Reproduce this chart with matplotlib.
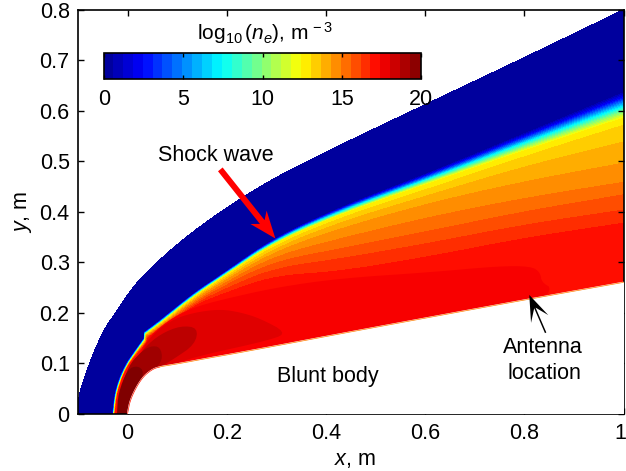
import numpy as np
import matplotlib
matplotlib.use('Agg')
import matplotlib.pyplot as plt
from matplotlib.colors import LinearSegmentedColormap, Normalize
from matplotlib.patches import Polygon
from matplotlib.transforms import ScaledTranslation

plt.rcParams['font.family'] = ['Liberation Sans', 'DejaVu Sans']
plt.rcParams['mathtext.fontset'] = 'custom'
plt.rcParams['mathtext.rm'] = 'Liberation Sans'
plt.rcParams['mathtext.it'] = 'Liberation Sans:italic'
plt.rcParams['axes.linewidth'] = 1.2

# stations along the flow: outer edge, shock front, body surface
outer_x = [-0.1, -0.098, -0.069, -0.045, -0.02, -0.005, 0.026, 0.1, 0.19, 0.294, 0.429, 0.611, 0.8, 1.0]
outer_y = [0.0, 0.04, 0.119, 0.17, 0.204, 0.228, 0.268, 0.336, 0.402, 0.466, 0.532, 0.617, 0.705, 0.8]
shock_x = [-0.03, -0.025, -0.007, 0.016, 0.033, 0.034, 0.067, 0.133, 0.194, 0.294, 0.429, 0.611, 0.8, 1.0]
shock_y = [0.0, 0.046, 0.092, 0.125, 0.148, 0.161, 0.185, 0.238, 0.278, 0.347, 0.409, 0.478, 0.555, 0.637]
body_x = [0.0, 0.006, 0.028, 0.05, 0.067, 0.08, 0.11, 0.17, 0.2, 0.294, 0.429, 0.611, 0.8, 1.0]
body_y = [0.0, 0.03, 0.07, 0.088, 0.093, 0.095, 0.1, 0.111, 0.116, 0.133, 0.158, 0.191, 0.225, 0.26]

# log10(ne) level and where it sits between shock (0) and body (1), per station
levels_front = [0.3, 2.5, 5.0, 7.5, 10.0, 12.5, 13.125, 13.75, 14.375, 15.0, 15.625, 16.25, 16.875, 17.3]
level_pos = [
    [0, 0, 0, 0, 0, 0, 0, 0, 0, 0, 0, 0, 0, 0],
    [.03, .03, .02, .02, .015, .015, .012, .01, .01, .01, .012, .016, .022, .03],
    [.06, .06, .05, .04, .03, .03, .025, .02, .018, .02, .024, .032, .042, .055],
    [.08, .08, .07, .05, .04, .04, .035, .03, .027, .03, .036, .045, .06, .08],
    [.09, .1, .08, .07, .055, .055, .05, .04, .036, .04, .048, .06, .082, .105],
    [.1, .11, .09, .08, .07, .07, .06, .05, .045, .05, .06, .076, .105, .138],
    [.12, .12, .1, .09, .08, .08, .075, .065, .06, .07, .085, .111, .14, .175],
    [.14, .13, .11, .1, .095, .095, .09, .08, .08, .1, .12, .156, .2, .263],
    [.15, .14, .115, .11, .11, .11, .105, .095, .1, .13, .17, .212, .29, .374],
    [.16, .15, .12, .12, .125, .125, .12, .115, .13, .17, .25, .309, .39, .475],
    [.17, .16, .125, .13, .14, .14, .135, .135, .16, .22, .33, .406, .47, .541],
    [.18, .17, .13, .15, .155, .155, .15, .155, .2, .28, .41, .49, .55, .621],
    [.2, .18, .14, .17, .17, .17, .165, .175, .25, .35, .51, .583, .63, .69],
    [1, 1, 1, 1, 1, 1, 1, 1, 1, 1, 1, 1, 1, 1],
]

# closed high density regions behind the shock, lowest first
# (they start and end under the axis and under the body, both hide that part)
island_values = [17.6, 18.1, 18.75, 19.35, 20.0]
island_x = [
    [-0.023, -0.023, -0.018, 0.001, 0.024, 0.045, 0.09, 0.133, 0.187, 0.3, 0.429, 0.611, 0.746, 0.813, 0.832, 0.835, 0.858, 0.813, 0.3, 0.05, 0.02],
    [-0.022, -0.022, -0.017, 0.003, 0.024, 0.043, 0.087, 0.133, 0.187, 0.23, 0.268, 0.32, 0.294, 0.133, 0.073, 0.03, 0.02],
    [-0.0215, -0.0215, -0.016, 0.005, 0.034, 0.067, 0.107, 0.142, 0.136, 0.093, 0.062, 0.03, 0.02],
    [-0.021, -0.021, -0.016, 0.002, 0.026, 0.046, 0.066, 0.071, 0.052, 0.03, 0.02],
    [-0.021, -0.021, -0.019, 0.0, 0.02, 0.034, 0.02, 0.02],
]
island_y = [
    [-0.04, 0.0, 0.044, 0.088, 0.118, 0.155, 0.19, 0.21, 0.225, 0.25, 0.268, 0.28, 0.292, 0.292, 0.28, 0.26, 0.247, 0.2, 0.1, 0.05, -0.04],
    [-0.04, 0.0, 0.04, 0.08, 0.112, 0.15, 0.185, 0.2, 0.207, 0.2, 0.188, 0.161, 0.147, 0.112, 0.09, 0.05, -0.04],
    [-0.04, 0.0, 0.04, 0.09, 0.131, 0.158, 0.174, 0.17, 0.137, 0.108, 0.09, 0.05, -0.04],
    [-0.04, 0.0, 0.04, 0.095, 0.121, 0.134, 0.132, 0.106, 0.085, 0.05, -0.04],
    [-0.04, 0.0, 0.04, 0.088, 0.095, 0.083, 0.04, -0.04],
]

cbar_ticks = [0, 5, 10, 15, 20]
x_ticks = [0, 0.2, 0.4, 0.6, 0.8, 1]
x_labels = ['0', '0.2', '0.4', '0.6', '0.8', '1']
y_ticks = [0, 0.1, 0.2, 0.3, 0.4, 0.5, 0.6, 0.7, 0.8]
y_labels = ['0', '0.1', '0.2', '0.3', '0.4', '0.5', '0.6', '0.7', '0.8']

# same anchors as the matlab jet
jet = LinearSegmentedColormap.from_list('mjet', [
    (0.0, (0, 0, 0.5625)), (0.125, (0, 0, 1)), (0.375, (0, 1, 1)),
    (0.625, (1, 1, 0)), (0.875, (1, 0, 0)), (1.0, (0.5, 0, 0))], N=256)
norm = Normalize(0, 20)
FS = 15.5
KINK = 5  # the shock has a small step between station 4 and 5


def smooth(px, py, n=2):
    # corner cutting so the hand read outlines do not look like polygons
    pts = np.column_stack([px, py])
    for _ in range(n):
        nxt = np.roll(pts, -1, axis=0)
        pts = np.column_stack([0.75*pts + 0.25*nxt, 0.25*pts + 0.75*nxt]).reshape(-1, 2)
    return pts


def cut_rows(a, n=3):
    # same corner cutting on the grid, along the stations, ends stay put
    for _ in range(n):
        q = 0.75*a[:, :-1] + 0.25*a[:, 1:]
        r = 0.25*a[:, :-1] + 0.75*a[:, 1:]
        mid = np.empty((a.shape[0], 2*(a.shape[1] - 1)))
        mid[:, ::2] = q
        mid[:, 1::2] = r
        a = np.hstack([a[:, :1], mid, a[:, -1:]])
    return a


def round_grid(a):
    # nose part and aft part are rounded apart so the step in the shock survives,
    # the outer edge and the body have no step and get rounded in one go
    out = np.hstack([cut_rows(a[:, :KINK]), cut_rows(a[:, KINK:])])
    whole = cut_rows(a)
    t_out = np.linspace(0, 1, out.shape[1])
    t_whole = np.linspace(0, 1, whole.shape[1])
    out[0] = np.interp(t_out, t_whole, whole[0])
    out[-1] = np.interp(t_out, t_whole, whole[-1])
    return out


def barbed(ax, tip, tail, shaft, head_w, head_l, notch, color):
    # arrow with swept back head, sizes in data units
    tip = np.array(tip)
    tail = np.array(tail)
    u = (tail - tip)/np.linalg.norm(tail - tip)
    v = np.array([-u[1], u[0]])
    pts = [tip, tip + u*head_l + v*head_w/2, tip + u*notch + v*shaft/2, tail + v*shaft/2,
           tail - v*shaft/2, tip + u*notch - v*shaft/2, tip + u*head_l - v*head_w/2]
    ax.add_patch(Polygon(pts, closed=True, fc=color, ec='none', zorder=6))


fig = plt.figure(figsize=(6.26, 4.71), dpi=100)
ax = fig.add_axes([78/626, 1 - 413.5/471, 545.5/626, 403.5/471])

sx, sy = np.array(shock_x), np.array(shock_y)
bx, by = np.array(body_x), np.array(body_y)
pos = np.array(level_pos, dtype=float)
X = np.vstack([outer_x, sx + pos*(bx - sx)])
Y = np.vstack([outer_y, sy + pos*(by - sy)])
Z = np.array([0.0] + levels_front)

X = round_grid(X)
Y = round_grid(Y)
Z = np.tile(Z[:, None], (1, X.shape[1]))

cs = ax.contourf(X, Y, Z, levels=np.linspace(0, 20, 33), cmap=jet, norm=norm, zorder=1)
cs.set_edgecolor('face')
cs.set_linewidth(0.3)

for val, ix, iy in zip(island_values, island_x, island_y):
    ax.add_patch(Polygon(smooth(ix, iy), closed=True, fc=jet(norm(val)), ec='none', zorder=2))

# body sits on top and trims everything that runs past the surface
surf_x = X[-1]
surf_y = Y[-1]
ax.fill(list(surf_x) + [1.0], list(surf_y) + [0.0], color='white', zorder=3)
n_nose = 2**3*(KINK - 1) + 2
ax.plot(surf_x[n_nose:], surf_y[n_nose:], color=jet(norm(15)), lw=0.5, zorder=4)
ax.plot(surf_x[:n_nose + 1], surf_y[:n_nose + 1], color=jet(norm(17)), lw=0.5, zorder=4)

ax.set_xlim(-0.1, 1)
ax.set_ylim(0, 0.8)
ax.set_xticks(x_ticks, x_labels)
ax.set_yticks(y_ticks, y_labels)
ax.tick_params(direction='in', length=4, width=1, top=True, right=True, labelsize=FS, pad=7)
ax.tick_params(axis='y', pad=6)
ax.set_xlabel(r'$\mathit{x}$, m', fontsize=FS, labelpad=3)
ax.xaxis.set_label_coords(0.508, -0.088)
ax.set_ylabel(r'$\mathit{y}$, m', fontsize=FS, labelpad=4)

# last tick label would run off the right edge
last = ax.get_xticklabels()[-1]
last.set_transform(last.get_transform() + ScaledTranslation(-3/100, 0, fig.dpi_scale_trans))

ax.text(0.177, 0.512, 'Shock wave', fontsize=FS, ha='center', va='center', zorder=7)
ax.text(0.404, 0.073, 'Blunt body', fontsize=FS, ha='center', va='center', zorder=7)
ax.text(0.837, 0.131, 'Antenna', fontsize=FS, ha='center', va='center', zorder=7)
ax.text(0.841, 0.079, 'location', fontsize=FS, ha='center', va='center', zorder=7)

barbed(ax, (0.298, 0.347), (0.187, 0.484), 0.012, 0.042, 0.054, 0.042, '#ff0000')
barbed(ax, (0.81, 0.235), (0.843, 0.16), 0.003, 0.038, 0.052, 0.028, 'black')

cax = fig.add_axes([104/626, 1 - 79/471, 317/626, 26/471])
cb = fig.colorbar(cs, cax=cax, orientation='horizontal', ticks=cbar_ticks)
cb.solids.set_edgecolor('face')
cb.outline.set_linewidth(1.2)
cax.tick_params(direction='in', length=3, width=1, top=True, bottom=True, labelsize=FS, pad=7)
cax.set_xticklabels([str(t) for t in cbar_ticks])
fig.text(265/626, 1 - 33/471, r'log$_{10}\,$($\mathit{n}_{\mathit{e}}$), m$^{\,-3}$',
         fontsize=FS - 0.5, ha='center', va='center')

fig.savefig('out.png', dpi=100)
